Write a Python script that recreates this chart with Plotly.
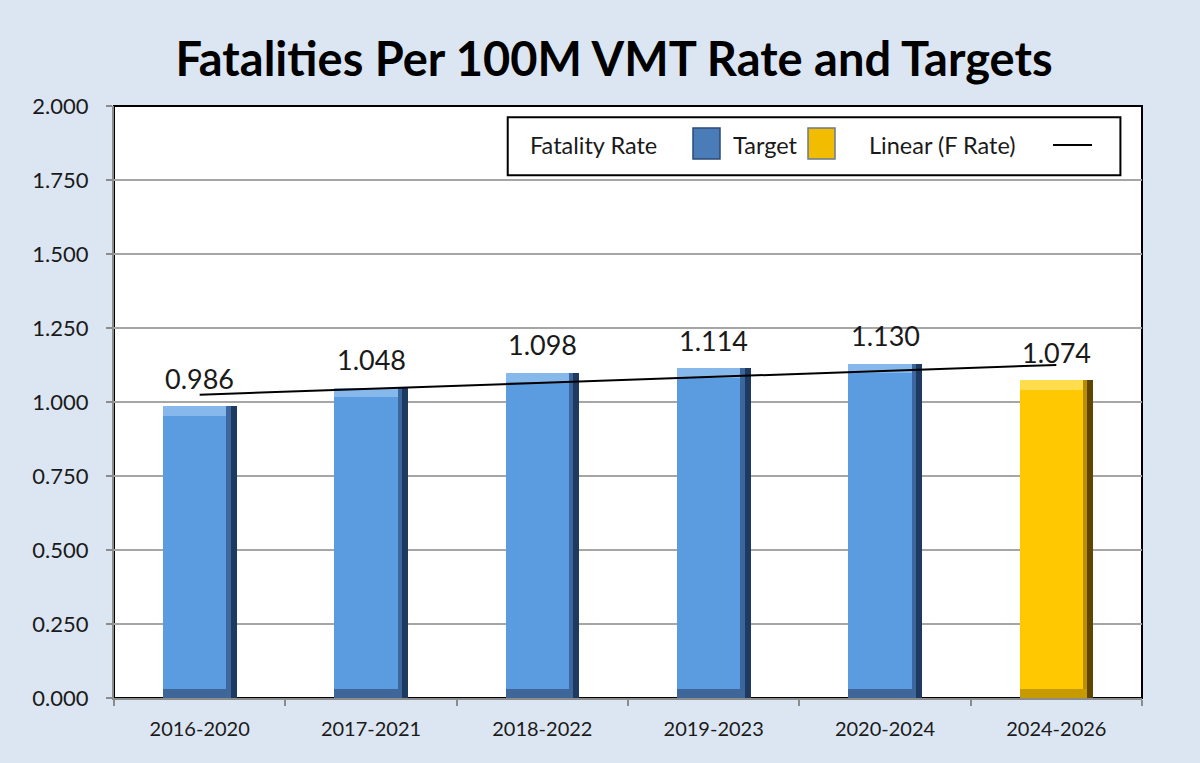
import numpy as np
import plotly.graph_objects as go

# ---- data ----
categories = ["2016-2020", "2017-2021", "2018-2022", "2019-2023", "2020-2024", "2024-2026"]
rate_periods = ["2016-2020", "2017-2021", "2018-2022", "2019-2023", "2020-2024"]
rate_values = [0.986, 1.048, 1.098, 1.114, 1.130]
target_periods = ["2024-2026"]
target_values = [1.074]
y_ticks = [0.0, 0.25, 0.5, 0.75, 1.0, 1.25, 1.5, 1.75, 2.0]

FONT = "Lato"
BAR_W = 0.43

# linear trend over all plotted values
all_vals = rate_values + target_values
idx = np.arange(len(all_vals))
slope, intercept = np.polyfit(idx, all_vals, 1)
trend = list(intercept + slope * idx)

fig = go.Figure()


def bevel_bar(periods, vals, dark, mid, face, top, bottom, name):
    fig.add_trace(go.Bar(x=periods, y=vals, width=BAR_W, offset=-BAR_W / 2,
                         marker=dict(color=dark, line=dict(width=0)),
                         showlegend=False, hoverinfo="skip"))
    fig.add_trace(go.Bar(x=periods, y=vals, width=BAR_W - 0.035, offset=-BAR_W / 2,
                         marker=dict(color=mid, line=dict(width=0)),
                         showlegend=False, hoverinfo="skip"))
    fig.add_trace(go.Bar(x=periods, y=vals, width=BAR_W - 0.06, offset=-BAR_W / 2,
                         marker=dict(color=face, line=dict(width=0)),
                         name=name, showlegend=False,
                         hovertemplate="%{x}: %{y:.3f}<extra>" + name + "</extra>"))
    fig.add_trace(go.Bar(x=periods, y=[0.032] * len(vals), base=[v - 0.032 for v in vals],
                         width=BAR_W - 0.06, offset=-BAR_W / 2,
                         marker=dict(color=top, line=dict(width=0)),
                         showlegend=False, hoverinfo="skip"))
    fig.add_trace(go.Bar(x=periods, y=[0.03] * len(vals), base=[0] * len(vals),
                         width=BAR_W - 0.035, offset=-BAR_W / 2,
                         marker=dict(color=bottom, line=dict(width=0)),
                         showlegend=False, hoverinfo="skip"))


bevel_bar(rate_periods, rate_values, "#1F3A60", "#3C679E", "#5B9BE0", "#86B8EC", "#3E6699",
          "Fatality Rate")
bevel_bar(target_periods, target_values, "#5E4600", "#B88E00", "#FFC800", "#FFDD4D", "#C79A00",
          "Target")

fig.add_trace(go.Scatter(x=categories, y=trend, mode="lines",
                         line=dict(color="black", width=2),
                         name="Linear (F Rate)", showlegend=False, hoverinfo="skip"))

# data labels
for c, v in zip(rate_periods + target_periods, all_vals):
    fig.add_annotation(x=c, y=v, text=f"{v:.3f}", showarrow=False, yshift=28,
                       yanchor="middle", font=dict(family=FONT, size=27, color="#1a1a1a"))

# plot-area border (top/right black)
fig.add_shape(type="rect", xref="paper", yref="paper", x0=0, x1=1, y0=0, y1=1,
              line=dict(color="black", width=2), fillcolor="rgba(0,0,0,0)", layer="below")

# custom legend (text before symbol)
fig.add_shape(type="rect", xref="paper", yref="paper", x0=0.383, x1=0.979, y0=0.883, y1=0.981,
              line=dict(color="black", width=2), fillcolor="white", layer="above")
ly = 0.934
LEG_FONT = dict(family=FONT, size=23.5, color="#1a1a1a")
fig.add_annotation(xref="paper", yref="paper", x=(528 - 114) / 1028, y=ly, text="Fatality Rate",
                   showarrow=False, xanchor="left", yanchor="middle", font=LEG_FONT)
fig.add_shape(type="rect", xref="paper", yref="paper",
              x0=(693 - 114) / 1028, x1=(720 - 114) / 1028, y0=(698 - 159) / 592, y1=(698 - 128) / 592,
              line=dict(color="#2B4A75", width=1.5), fillcolor="#4A7CB8", layer="above")
fig.add_annotation(xref="paper", yref="paper", x=(731 - 114) / 1028, y=ly, text="Target",
                   showarrow=False, xanchor="left", yanchor="middle", font=LEG_FONT)
fig.add_shape(type="rect", xref="paper", yref="paper",
              x0=(808 - 114) / 1028, x1=(835 - 114) / 1028, y0=(698 - 159) / 592, y1=(698 - 128) / 592,
              line=dict(color="#6A7A90", width=1.5), fillcolor="#F2BC00", layer="above")
fig.add_annotation(xref="paper", yref="paper", x=(867 - 114) / 1028, y=ly, text="Linear (F Rate)",
                   showarrow=False, xanchor="left", yanchor="middle", font=LEG_FONT)
fig.add_shape(type="line", xref="paper", yref="paper",
              x0=(1053 - 114) / 1028, x1=(1092 - 114) / 1028, y0=ly, y1=ly,
              line=dict(color="black", width=2), layer="above")

fig.update_layout(
    width=1200, height=763,
    barmode="overlay",
    paper_bgcolor="#DCE6F2",
    plot_bgcolor="white",
    margin=dict(l=114, r=58, t=106, b=65),
    title=dict(text="<b>Fatalities Per 100M VMT Rate and Targets</b>",
               x=614 / 1200, xanchor="center", xref="container",
               y=1 - 60 / 763, yanchor="middle", yref="container",
               font=dict(family=FONT, size=47, color="black")),
    showlegend=False,
    bargap=0,
)
fig.update_xaxes(type="category", categoryorder="array", categoryarray=categories,
                 range=[-0.5, len(categories) - 0.5],
                 showline=True, linecolor="#8C8C8C", linewidth=2,
                 ticks="outside", tickson="boundaries", ticklen=6, tickcolor="#8C8C8C",
                 tickwidth=2, showgrid=False,
                 tickfont=dict(family=FONT, size=20, color="#1a1a1a"), ticklabelstandoff=12)
fig.update_yaxes(range=[0, 2], tickvals=y_ticks, tickformat=".3f",
                 showline=True, linecolor="#8C8C8C", linewidth=2,
                 ticks="outside", ticklen=6, tickcolor="#8C8C8C", tickwidth=2,
                 showgrid=True, gridcolor="#A6A6A6", gridwidth=2, zeroline=False,
                 tickfont=dict(family=FONT, size=22, color="#1a1a1a"), ticklabelstandoff=13)

fig.write_html("out.html", config={"displayModeBar": False},
               post_script="document.body.style.margin='0';document.body.style.overflow='hidden';")
